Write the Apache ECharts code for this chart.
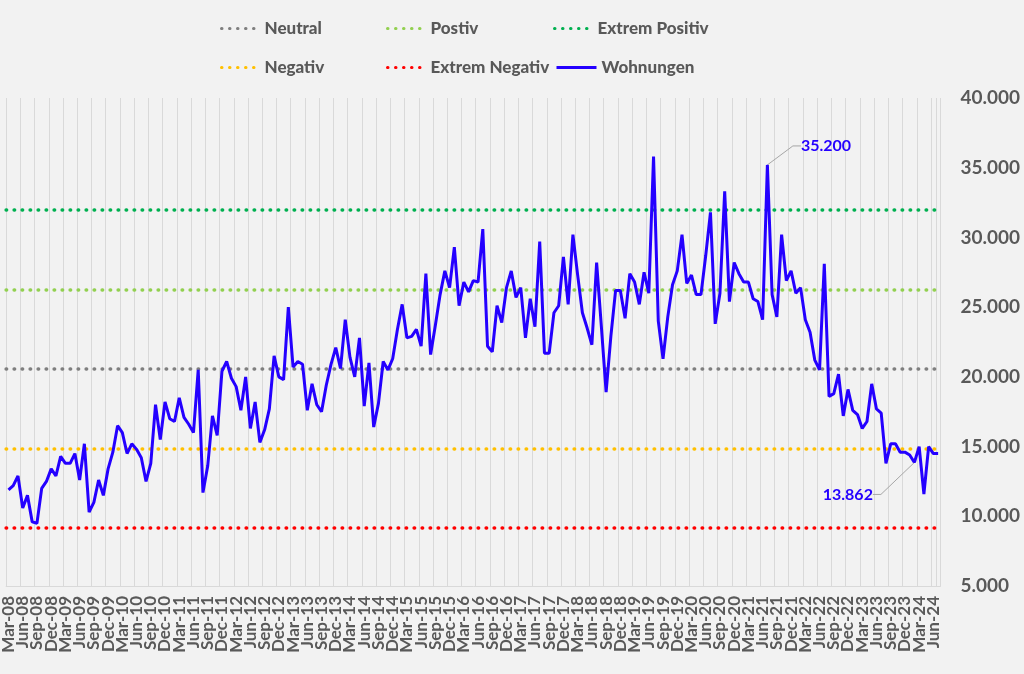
<!DOCTYPE html>
<html>
<head>
<meta charset="utf-8">
<script src="https://cdn.jsdelivr.net/npm/echarts@6/dist/echarts.min.js"></script>
<style>
  html, body { margin: 0; padding: 0; background: #F2F2F2; }
  #chart { width: 1024px; height: 674px; }
</style>
</head>
<body>
<div id="chart"></div>
<script>
// monthly values, Mar-08 .. Jul-24
var monthNames = ['Jan', 'Feb', 'Mar', 'Apr', 'May', 'Jun', 'Jul', 'Aug', 'Sep', 'Oct', 'Nov', 'Dec'];
var startYear = 2008;
var startMonth = 2; // March
var labelEvery = 3;

var wohnungen = [
  11900, 12200, 12900, 10600, 11500, 9600, 9500, 12000, 12500, 13400,
  12900, 14300, 13800, 13800, 14500, 12600, 15200, 10300, 11000, 12600,
  11500, 13400, 14600, 16500, 16000, 14500, 15200, 14800, 14200, 12500,
  13800, 18000, 15500, 18200, 17000, 16800, 18500, 17100, 16600, 16000,
  20500, 11700, 13600, 17200, 15800, 20400, 21100, 19900, 19300, 17600,
  20000, 16300, 18200, 15300, 16200, 17700, 21500, 20000, 19800, 25000,
  20700, 21100, 20900, 17600, 19500, 18000, 17500, 19400, 20900, 22100,
  20600, 24100, 21400, 20000, 22800, 17900, 21000, 16400, 18100, 21100,
  20500, 21300, 23400, 25200, 22800, 22900, 23400, 22200, 27400, 21600,
  23700, 25900, 27600, 26400, 29300, 25100, 26800, 26100, 26900, 26800,
  30600, 22200, 21800, 25100, 23900, 26400, 27600, 25700, 26400, 22800,
  25600, 23600, 29700, 21700, 21700, 24600, 25100, 28600, 25200, 30200,
  27300, 24600, 23500, 22300, 28200, 23600, 18900, 22900, 26200, 26200,
  24200, 27400, 26800, 25200, 27500, 26000, 35800, 24000, 21300, 24300,
  26600, 27600, 30200, 26700, 27300, 25900, 25900, 28700, 31800, 23800,
  26000, 33300, 25400, 28200, 27400, 26800, 26800, 25600, 25400, 24100,
  35200, 25900, 24300, 30200, 26900, 27600, 26000, 26400, 24100, 23200,
  21200, 20500, 28100, 18600, 18800, 20200, 17200, 19100, 17600, 17300,
  16300, 16800, 19500, 17700, 17400, 13800, 15200, 15200, 14600, 14600,
  14400, 13862, 15000, 11600, 15000, 14500, 14500
];

var levelNames = ['Neutral', 'Postiv', 'Extrem Positiv', 'Negativ', 'Extrem Negativ'];
var levelValues = [20550, 26250, 31950, 14850, 9150];
var levelColors = ['#7F7F7F', '#92D050', '#00B050', '#FFC000', '#FF0000'];

var yMin = 5000, yMax = 40000, yStep = 5000;

// points that carry a value label
var noteIndex = [160, 191];

var categories = [];
for (var i = 0; i < wohnungen.length; i++) {
  var m = startMonth + i;
  var yy = startYear + Math.floor(m / 12);
  categories.push(monthNames[m % 12] + '-' + String(yy).slice(2));
}

function fmt(v) {
  return String(v).replace(/\B(?=(\d{3})+(?!\d))/g, '.');
}

var FONT = 'Lato';
var TXT = '#595959';
var BLUE = '#2400FF';

var chart = echarts.init(document.getElementById('chart'));

function dotted(color) {
  return { color: color, width: 3.5, type: [0.5, 7.5], cap: 'round' };
}

var series = [];
for (var j = 0; j < levelNames.length; j++) {
  series.push({
    name: levelNames[j],
    type: 'line',
    data: [],
    symbol: 'none',
    itemStyle: { color: levelColors[j] },
    lineStyle: dotted(levelColors[j]),
    markLine: {
      silent: true,
      symbol: 'none',
      label: { show: false },
      lineStyle: dotted(levelColors[j]),
      data: [{ yAxis: levelValues[j] }]
    }
  });
}

var mainData = wohnungen.map(function (v, idx) {
  var k = noteIndex.indexOf(idx);
  if (k < 0) return v;
  return {
    value: v,
    symbol: 'circle',
    symbolSize: 1,
    label: {
      show: true,
      position: k === 0 ? 'right' : 'left',
      formatter: fmt(v),
      color: BLUE,
      fontFamily: FONT,
      fontSize: 16,
      fontWeight: 'bold'
    }
  };
});

series.push({
  name: 'Wohnungen',
  type: 'line',
  data: mainData,
  symbol: 'none',
  showSymbol: true,
  showAllSymbol: true,
  z: 5,
  itemStyle: { color: BLUE },
  lineStyle: { color: BLUE, width: 3 },
  emphasis: { disabled: true },
  labelLine: { show: true, length2: 8, lineStyle: { color: '#A6A6A6', width: 1 } },
  labelLayout: function (p) {
    if (p.dataIndex === noteIndex[0]) return { dx: 28, dy: -19 };
    if (p.dataIndex === noteIndex[1]) return { dx: -36, dy: 32 };
    return {};
  }
});

function leg(name, left, top, w) {
  return {
    data: [name],
    left: left,
    top: top,
    padding: 0,
    itemWidth: w,
    itemHeight: 14,
    selectedMode: false,
    itemStyle: { opacity: 0 },
    lineStyle: { width: 3 },
    textStyle: { color: TXT, fontFamily: FONT, fontSize: 17, fontWeight: 900 }
  };
}

var option = {
  animation: false,
  backgroundColor: '#F2F2F2',
  legend: [
    leg('Neutral', 220, 20, 38),
    leg('Postiv', 386, 20, 38),
    leg('Extrem Positiv', 553, 20, 38),
    leg('Negativ', 220, 59, 38),
    leg('Extrem Negativ', 386, 59, 38),
    leg('Wohnungen', 555, 59, 40)
  ],
  grid: { left: 3, right: 83.5, top: 98, bottom: 88, containLabel: false },
  xAxis: {
    type: 'category',
    data: categories,
    boundaryGap: true,
    axisTick: { show: false },
    axisLine: { lineStyle: { color: '#D9D9D9', width: 1 } },
    axisLabel: {
      interval: 0,
      rotate: 90,
      margin: 10,
      hideOverlap: false,
      color: TXT,
      fontFamily: FONT,
      fontSize: 17,
      fontWeight: 'bold',
      formatter: function (v, idx) {
        return idx % labelEvery === 0 ? v : '';
      }
    },
    splitLine: { show: true, interval: labelEvery - 1, lineStyle: { color: '#D9D9D9', width: 1 } }
  },
  yAxis: {
    type: 'value',
    position: 'right',
    min: yMin,
    max: yMax,
    interval: yStep,
    axisLine: { show: false },
    axisTick: { show: false },
    splitLine: { show: false },
    axisLabel: {
      margin: 20,
      color: TXT,
      fontFamily: FONT,
      fontSize: 19,
      fontWeight: 'bold',
      formatter: fmt
    }
  },
  series: series
};

chart.setOption(option);
</script>
</body>
</html>
